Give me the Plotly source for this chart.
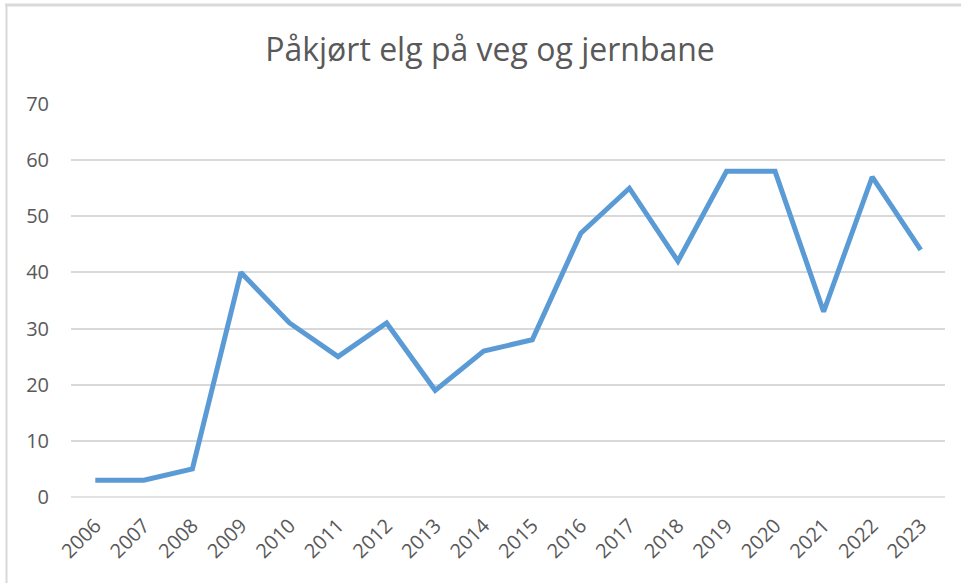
import plotly.graph_objects as go

years = ["2006", "2007", "2008", "2009", "2010", "2011", "2012", "2013", "2014",
         "2015", "2016", "2017", "2018", "2019", "2020", "2021", "2022", "2023"]
values = [3, 3, 5, 40, 31, 25, 31, 19, 26, 28, 47, 55, 42, 58, 58, 33, 57, 44]
title_text = "Påkjørt elg på veg og jernbane"

W, H = 961, 583
L, R, T, B = 71, 16, 104, 86
pw, ph = W - L - R, H - T - B

def px_x(x):
    return (x - L) / pw

def px_y(y):
    return (H - B - y) / ph

fig = go.Figure(go.Scatter(
    x=years, y=values, mode="lines",
    line=dict(color="#5B9BD5", width=5),
))

grid = "#D9D9D9"
fig.update_layout(
    width=W, height=H,
    margin=dict(l=L, r=R, t=T, b=B, autoexpand=False),
    paper_bgcolor="white", plot_bgcolor="white",
    showlegend=False,
    font=dict(family="Open Sans", color="#595959"),
    title=dict(text=title_text, x=490 / W, xanchor="center", y=1 - 50 / H, yanchor="middle",
               font=dict(size=32, color="#595959", family="Open Sans")),
    xaxis=dict(type="category", range=[-0.5, 17.5], showgrid=False, zeroline=False,
               showline=False, ticks="", tickangle=-45, automargin=False,
               ticklabelstandoff=12,
               tickfont=dict(size=20, color="#595959")),
    yaxis=dict(range=[0, 70], dtick=10, showgrid=True, gridcolor=grid, gridwidth=1.5,
               zeroline=False, showline=False, ticks="", automargin=False,
               tickfont=dict(size=20, color="#595959"), ticklabelstandoff=21),
    shapes=[
        dict(type="line", xref="paper", yref="paper", x0=px_x(5), x1=px_x(961),
             y0=px_y(5), y1=px_y(5), line=dict(color=grid, width=3)),
        dict(type="line", xref="paper", yref="paper", x0=px_x(6.5), x1=px_x(6.5),
             y0=px_y(5), y1=px_y(583), line=dict(color=grid, width=2)),
        dict(type="line", xref="paper", yref="paper", x0=0, x1=1, y0=0, y1=0,
             line=dict(color=grid, width=1.5), layer="below"),
    ],
)

fig.write_html("out.html", config={"displayModeBar": False},
               post_script="document.body.style.margin='0';")
